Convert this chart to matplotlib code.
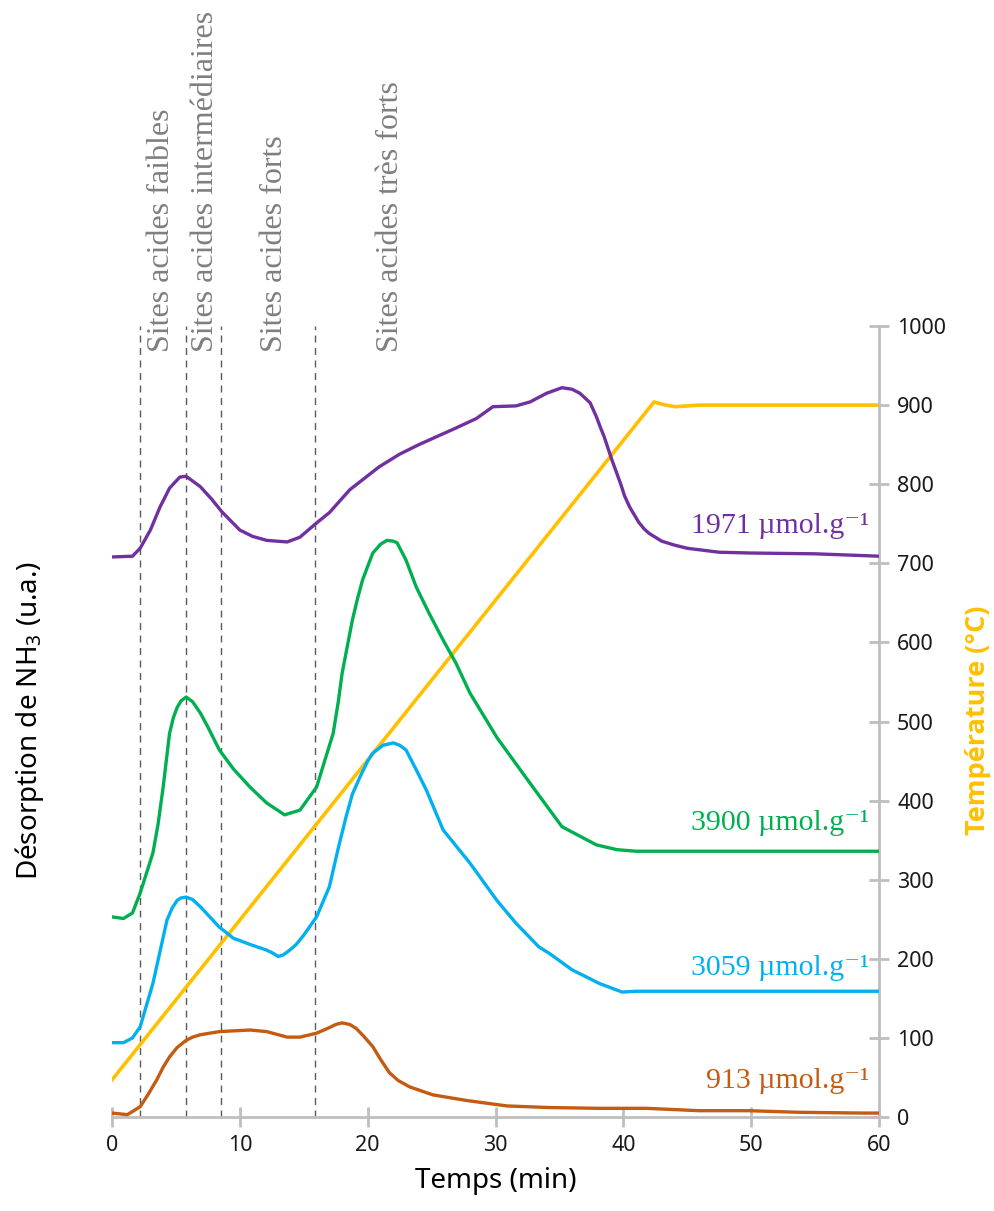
import matplotlib
matplotlib.use("Agg")
import matplotlib.pyplot as plt

# désorption NH3 (u.a., placée sur l'échelle 0-1000) en fonction du temps (min)
t_violet = [0, 1.6, 2.2, 3, 3.75, 4.5, 5.3, 5.8, 6.9, 7.8, 8.6, 10, 11, 12.1, 13.7, 14.7,
            16, 17, 18.6, 20.9, 22.5, 24, 26.9, 28.5, 29.8, 31.6, 32.7, 34, 35.2, 36.0, 36.6,
            37.4, 37.9, 38.2, 38.5, 39.1, 39.8, 40.1, 40.5, 41.2, 41.6, 42, 43, 44, 45, 47.5,
            50, 55, 60]
violet = [708, 709, 719, 742, 771, 795, 809, 810, 797, 781, 765, 742, 734, 729, 727, 733,
          751, 764, 793, 822, 838, 850, 871, 883, 898, 899, 904, 915, 922, 920, 915,
          903, 885, 872, 860, 831, 800, 785, 771, 752, 744, 738, 728, 723, 719, 714,
          713, 712, 709]

t_vert = [0, 0.9, 1.6, 2.2, 3.2, 3.6, 4.0, 4.5, 4.8, 5.1, 5.4, 5.8, 6.3, 6.9, 7.5, 8.4, 9.5,
          10.8, 12.1, 13.5, 14.7, 16.0, 17.3, 17.7, 18.0, 18.8, 19.2, 19.6, 20.4, 21.0, 21.5,
          22.0, 22.3, 23.0, 23.8, 24.8, 25.9, 26.9, 28, 30.1, 32.7, 35.2, 37.9, 39.5, 41, 45,
          50, 55, 60]
vert = [253, 251, 258, 283, 334, 370, 417, 485, 505, 518, 526, 531, 525, 511, 493, 464, 440,
        417, 397, 382, 388, 417, 485, 525, 561, 628, 655, 679, 713, 724, 729,
        728, 726, 704, 670, 637, 603, 574, 536, 480, 422, 367, 344, 338, 336, 336,
        336, 336, 336]

t_bleu = [0, 0.9, 1.6, 2.2, 3.2, 4.3, 4.7, 5.1, 5.4, 5.8, 6.3, 6.9, 8.4, 9.5, 11, 12.1, 12.6,
          13, 13.4, 13.9, 14.4, 15, 16, 17.0, 17.7, 18.3, 18.8, 19.4, 20.0, 20.4, 21.2, 22,
          22.5, 23, 23.8, 24.6, 25.9, 28, 30.1, 31.6, 33.4, 34.2, 36, 38.1, 39.9, 41, 45, 50,
          55, 60]
bleu = [94, 94, 100, 114, 169, 249, 264, 274, 277, 278, 275, 266, 240, 226, 217, 211, 207,
        203, 205, 211, 218, 230, 253, 291, 340, 379, 408, 430, 450, 460, 470, 473,
        470, 464, 439, 413, 363, 321, 274, 245, 215, 207, 186, 169, 158, 159, 159, 159,
        159, 159]

t_orange = [0, 1.2, 2.2, 2.8, 3.5, 4.0, 4.5, 5.1, 5.8, 6.3, 6.9, 8.4, 10.8, 12.1, 13.7, 14.7,
            16, 17.0, 17.5, 18, 18.6, 19.1, 19.7, 20.4, 21.0, 21.7, 22.4, 23.3, 25.1, 27.7,
            30.9, 34.2, 38.1, 41.8, 45.9, 49.8, 53.7, 58.7, 60]
orange = [5, 3, 13, 28, 47, 63, 76, 88, 97, 101, 104, 108, 110, 108, 101, 101,
          106, 113, 117, 119, 117, 112, 102, 89, 73, 56, 46, 38, 28, 21,
          14, 12, 11, 11, 8, 8, 6, 5, 5]

# température du four (°C)
t_temp = [0, 42.4, 43.3, 44.1, 46, 60]
temp = [47, 904, 900, 898, 900, 900]

# limites des domaines de sites acides
limites = [2.2, 5.8, 8.5, 15.9]
sites = ["Sites acides faibles", "Sites acides intermédiaires",
         "Sites acides forts", "Sites acides très forts"]
x_sites = [3.9, 7.3, 12.7, 21.8]

etiquettes = ["1971 µmol.g⁻¹", "3900 µmol.g⁻¹", "3059 µmol.g⁻¹", "913 µmol.g⁻¹"]
y_etiquettes = [738, 363, 180, 37]

c_violet = "#7030A0"
c_vert = "#00B050"
c_bleu = "#00B0F0"
c_orange = "#C55A11"
c_jaune = "#FFC000"
gris = "#BFBFBF"

fig = plt.figure(figsize=(9.94, 12.11), dpi=100)
ax = fig.add_axes([0.1127, 0.0776, 0.7716, 0.6532])

for x in limites:
    ax.plot([x, x], [0, 1000], color="#595959", lw=1, ls=(0, (5, 4)), zorder=1)

ax.plot(t_temp, temp, color=c_jaune, lw=2.6, zorder=2)
ax.plot(t_orange, orange, color=c_orange, lw=2.4, zorder=3)
ax.plot(t_bleu, bleu, color=c_bleu, lw=2.4, zorder=3)
ax.plot(t_vert, vert, color=c_vert, lw=2.4, zorder=3)
ax.plot(t_violet, violet, color=c_violet, lw=2.4, zorder=3)

serif = ["Liberation Serif", "DejaVu Serif"]
for txt, y, c in zip(etiquettes, y_etiquettes, [c_violet, c_vert, c_bleu, c_orange]):
    ax.text(59.2, y, txt, color=c, fontsize=21.5, family=serif, ha="right", va="baseline")

for txt, x in zip(sites, x_sites):
    ax.text(x, 967, txt, rotation=90, color="#7F7F7F", fontsize=23, family=serif,
            ha="center", va="bottom", clip_on=False)

ax.set_xlim(0, 60)
ax.set_ylim(0, 1000)
ax.set_xticks(range(0, 61, 10))
ax.set_yticks(range(0, 1001, 100))
ax.yaxis.tick_right()
ax.spines["top"].set_visible(False)
ax.spines["left"].set_visible(False)
ax.spines["right"].set_color(gris)
ax.spines["bottom"].set_color(gris)
ax.spines["right"].set_linewidth(2)
ax.spines["bottom"].set_linewidth(2)
ax.tick_params(axis="both", direction="inout", length=14, width=2, color=gris,
               labelsize=15.5, labelcolor="#1a1a1a", pad=6)
for lab in ax.get_xticklabels() + ax.get_yticklabels():
    lab.set_family("Noto Sans")

ax.set_xlabel("Temps (min)", fontsize=20, family="Noto Sans", labelpad=8)
fig.text(0.030, 0.405, "Désorption de NH$\\mathregular{_3}$ (u.a.)", rotation=90,
         fontsize=20, family="Noto Sans", ha="center", va="center")
fig.text(0.984, 0.405, "Température (°C)", rotation=90, fontsize=19.5, family="Open Sans",
         fontweight="bold", color=c_jaune, ha="center", va="center")

fig.savefig("out.png", dpi=100)
